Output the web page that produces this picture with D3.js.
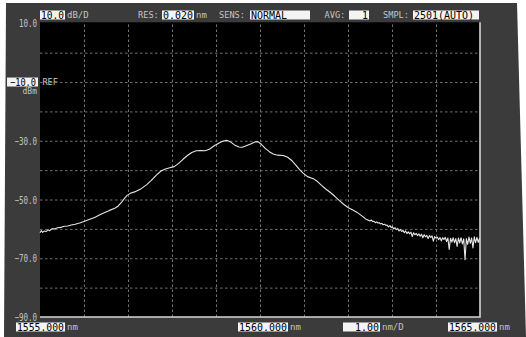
<!DOCTYPE html>
<html>
<head>
<meta charset="utf-8">
<script src="https://cdn.jsdelivr.net/npm/d3@7"></script>
<style>
  html, body { margin: 0; padding: 0; background: #ffffff; }
  svg { display: block; }
  text { font-family: "DejaVu Sans Mono", "Liberation Mono", monospace; }
</style>
</head>
<body>
<svg id="osa" width="526" height="337"></svg>
<script>
// Wavelength axis (nm) and level axis (dBm)
const xDomain = [1555, 1565];
const yDomain = [-90, 10];
const xGridTicks = [1556, 1557, 1558, 1559, 1560, 1561, 1562, 1563, 1564];
const yGridTicks = [0, -10, -20, -30, -40, -50, -60, -70, -80];
const yLabelTicks = [10, -30, -50, -70, -90];
const refLevel = -10;

// Measured spectrum: wavelength (nm) and level (dBm)
const traceNm = [
  1555.00, 1555.03, 1555.06, 1555.10, 1555.14, 1555.18, 1555.22, 1555.27, 1555.33, 1555.40,
  1555.47, 1555.55, 1555.63, 1555.71, 1555.80, 1555.90, 1556.00, 1556.10, 1556.24, 1556.35,
  1556.47, 1556.58, 1556.70, 1556.78, 1556.85, 1556.92, 1556.98, 1557.05, 1557.15, 1557.30,
  1557.42, 1557.53, 1557.65, 1557.75, 1557.85, 1557.95, 1558.05, 1558.15, 1558.25, 1558.35,
  1558.45, 1558.55, 1558.65, 1558.75, 1558.85, 1558.95, 1559.05, 1559.15, 1559.24, 1559.32,
  1559.42, 1559.52, 1559.60, 1559.70, 1559.80, 1559.88, 1559.95, 1560.03, 1560.12, 1560.22,
  1560.30, 1560.40, 1560.53, 1560.63, 1560.72, 1560.80, 1560.90, 1560.98, 1561.08, 1561.21,
  1561.30, 1561.40, 1561.50, 1561.60, 1561.70, 1561.80, 1561.90, 1562.00, 1562.10, 1562.20,
  1562.30, 1562.40,
  1562.50, 1562.53, 1562.56, 1562.59, 1562.62, 1562.65, 1562.68, 1562.71, 1562.74, 1562.77,
  1562.80, 1562.83, 1562.86, 1562.89, 1562.92, 1562.95, 1562.98, 1563.01, 1563.04, 1563.07,
  1563.10, 1563.13, 1563.16, 1563.19, 1563.22, 1563.25, 1563.28, 1563.31, 1563.34, 1563.37,
  1563.40, 1563.43, 1563.46, 1563.49, 1563.52, 1563.55, 1563.58, 1563.61, 1563.64, 1563.67,
  1563.70, 1563.73, 1563.76, 1563.79, 1563.82, 1563.85, 1563.88, 1563.91, 1563.94, 1563.97,
  1564.00, 1564.03, 1564.06, 1564.09, 1564.12, 1564.15, 1564.18, 1564.21, 1564.24, 1564.27,
  1564.30, 1564.33, 1564.36, 1564.39, 1564.42, 1564.45, 1564.48, 1564.51, 1564.54, 1564.57,
  1564.60, 1564.63, 1564.66, 1564.69, 1564.72, 1564.75, 1564.78, 1564.81, 1564.84, 1564.87,
  1564.90, 1564.93, 1564.96, 1564.99
];
const traceDbm = [
  -61.3, -60.6, -61.2, -60.7, -60.9, -60.3, -60.6, -60.0, -60.0, -59.6,
  -59.5, -59.1, -59.0, -58.7, -58.4, -58.0, -57.5, -56.9, -56.1, -55.3,
  -54.4, -53.7, -53.0, -52.2, -51.0, -49.6, -48.6, -47.9, -47.4, -46.3,
  -45.0, -43.5, -41.6, -40.3, -39.6, -39.2, -38.8, -37.7, -36.3, -35.0,
  -34.0, -33.4, -33.3, -33.4, -32.9, -31.8, -30.9, -30.2, -29.8, -30.3,
  -31.4, -32.1, -32.2, -31.6, -31.0, -30.4, -30.3, -31.2, -32.6, -33.8,
  -34.5, -34.9, -35.0, -35.6, -36.7, -38.0, -39.8, -41.0, -42.2, -42.9,
  -43.8, -45.2, -46.5, -47.6, -48.9, -50.3, -51.6, -52.7, -53.5, -54.3,
  -55.4, -56.6,
  -57.3, -57.0, -57.5, -57.4, -57.9, -57.6, -58.0, -57.9, -58.3, -58.1,
  -58.6, -58.4, -58.8, -58.7, -59.3, -58.9, -59.5, -59.3, -60.0, -59.6,
  -60.2, -59.9, -60.7, -60.2, -60.9, -60.5, -61.3, -60.7, -61.6, -61.0,
  -61.7, -61.1, -62.6, -61.3, -62.0, -61.5, -62.3, -61.7, -62.5, -61.8,
  -63.0, -62.0, -62.7, -62.2, -63.3, -62.3, -62.9, -62.4, -64.2, -62.6,
  -63.2, -62.8, -63.7, -62.9, -64.1, -63.0, -63.6, -62.9, -64.3, -63.1,
  -67.0, -63.2, -64.5, -63.0, -64.7, -63.3, -66.0, -63.1, -64.8, -63.0,
  -65.1, -63.4, -70.5, -63.3, -65.3, -62.8, -64.9, -63.1, -66.5, -62.7,
  -64.7, -62.9, -64.6, -63.2
];

// Instrument status fields
const headerFields = [
  { value: "10.0", unit: "dB/D" },
  { label: "RES:", value: "0.020", unit: "nm" },
  { label: "SENS:", value: "NORMAL" },
  { label: "AVG:", value: "1" },
  { label: "SMPL:", value: "2501(AUTO)" }
];
const footerFields = [
  { value: "1555.000", unit: "nm" },
  { value: "1560.000", unit: "nm" },
  { value: "1.00", unit: "nm/D" },
  { value: "1565.000", unit: "nm" }
];

const svg = d3.select("#osa");
const plot = { left: 40, right: 480, top: 23.3, bottom: 317 };
const x = d3.scaleLinear().domain(xDomain).range([plot.left, plot.right]);
const y = d3.scaleLinear().domain(yDomain).range([plot.bottom, plot.top]);

const textColor = "#c4c4c4";

// Instrument panel
svg.append("polygon")
  .attr("points", "6,3 517,3 526,337 4,337")
  .attr("fill", "#3b3b3b");

// Screen area
svg.append("rect")
  .attr("x", plot.left).attr("y", plot.top - 1)
  .attr("width", plot.right - plot.left).attr("height", plot.bottom - plot.top + 1)
  .attr("fill", "#000000");

// Dashed graticule
const gridX = svg.append("g")
  .attr("transform", `translate(0,${plot.bottom})`)
  .call(d3.axisBottom(x).tickValues(xGridTicks).tickSize(-(plot.bottom - plot.top)).tickFormat(""));
const gridY = svg.append("g")
  .attr("transform", `translate(${plot.left},0)`)
  .call(d3.axisLeft(y).tickValues(yGridTicks).tickSize(-(plot.right - plot.left)).tickFormat(""));
[gridX, gridY].forEach(g => {
  g.select(".domain").remove();
  g.selectAll(".tick line")
    .attr("stroke", "#727272")
    .attr("stroke-width", 1)
    .attr("stroke-dasharray", "2.5,2.5");
});

// Level labels every 20 dB
const yLabels = svg.append("g")
  .attr("transform", `translate(${plot.left},0)`)
  .call(d3.axisLeft(y).tickValues(yLabelTicks).tickSize(0).tickPadding(3).tickFormat(d3.format(".1f")));
yLabels.select(".domain").remove();
yLabels.selectAll(".tick text")
  .attr("fill", textColor)
  .attr("font-size", 10)
  .attr("font-family", "DejaVu Sans Mono")
  .attr("dy", "0.35em")
  .each(function() {
    const n = this.textContent.length;
    d3.select(this).attr("textLength", n * 4.5).attr("lengthAdjust", "spacingAndGlyphs");
  });

// Screen border (right and bottom)
svg.append("path")
  .attr("d", `M${plot.left},${plot.bottom}H${plot.right}V${plot.top - 1}`)
  .attr("fill", "none")
  .attr("stroke", "#d6d6d6")
  .attr("stroke-width", 1.6);

// Reference level marker
const refY = y(refLevel);
svg.append("rect").attr("x", 7).attr("y", refY - 4.5).attr("width", 31).attr("height", 9).attr("fill", "#f2f2f2");
svg.append("text").attr("x", 36).attr("y", refY).attr("dy", "0.36em")
  .attr("text-anchor", "end").attr("font-size", 10).attr("fill", "#000")
  .attr("textLength", 26).attr("lengthAdjust", "spacingAndGlyphs")
  .text(d3.format(".1f")(refLevel));
svg.append("text").attr("x", 37).attr("y", refY + 10).attr("dy", "0.3em")
  .attr("text-anchor", "end").attr("font-size", 8).attr("fill", textColor)
  .attr("font-family", "DejaVu Sans")
  .text("dBm");
svg.append("text").attr("x", plot.left + 2.5).attr("y", refY).attr("dy", "0.33em")
  .attr("font-size", 8.5).attr("fill", textColor).attr("font-family", "DejaVu Sans")
  .text("REF");

// Status field helper: white value box + grey caption text
function field(g, f, boxX, boxW, labelX, anchorEnd, cy) {
  if (f.label) {
    g.append("text").attr("x", labelX).attr("y", cy).attr("dy", "0.35em")
      .attr("font-size", 9).attr("fill", textColor)
      .attr("textLength", f.label.length * 5.2).attr("lengthAdjust", "spacingAndGlyphs")
      .text(f.label);
  }
  g.append("rect").attr("x", boxX).attr("y", cy - 4.5).attr("width", boxW).attr("height", 9).attr("fill", "#f4f4f4");
  const n = f.value.length;
  const tw = Math.min(boxW - 2, n * 6);
  g.append("text")
    .attr("x", anchorEnd ? boxX + boxW - 1 : boxX + 1)
    .attr("y", cy).attr("dy", "0.36em")
    .attr("text-anchor", anchorEnd ? "end" : "start")
    .attr("font-size", 10).attr("fill", "#000")
    .attr("textLength", tw).attr("lengthAdjust", "spacingAndGlyphs")
    .text(f.value);
  if (f.unit) {
    g.append("text").attr("x", boxX + boxW + 2).attr("y", cy).attr("dy", "0.35em")
      .attr("font-size", 9).attr("fill", textColor).attr("font-family", "DejaVu Sans")
      .text(f.unit);
  }
}

const header = svg.append("g");
const headerY = 15;
field(header, headerFields[0], 40, 25, 0, false, headerY);
field(header, headerFields[1], 162, 32, 138, false, headerY);
field(header, headerFields[2], 250, 60, 219, false, headerY);
field(header, headerFields[3], 349, 20, 324.5, true, headerY);
field(header, headerFields[4], 413, 66, 383, false, headerY);

const footer = svg.append("g");
const footerY = 327;
field(footer, footerFields[0], 16, 49, 0, false, footerY);
field(footer, footerFields[1], 238, 50, 0, false, footerY);
field(footer, footerFields[2], 343, 37, 0, true, footerY);
field(footer, footerFields[3], 448, 49, 0, false, footerY);

// Spectrum trace
const points = traceNm.map((nm, i) => [nm, traceDbm[i]]);
const line = d3.line().x(d => x(d[0])).y(d => y(d[1])).curve(d3.curveLinear);
svg.append("path")
  .datum(points)
  .attr("d", line)
  .attr("fill", "none")
  .attr("stroke", "#e6e6e6")
  .attr("stroke-width", 1.1)
  .attr("stroke-linejoin", "round");
</script>
</body>
</html>
